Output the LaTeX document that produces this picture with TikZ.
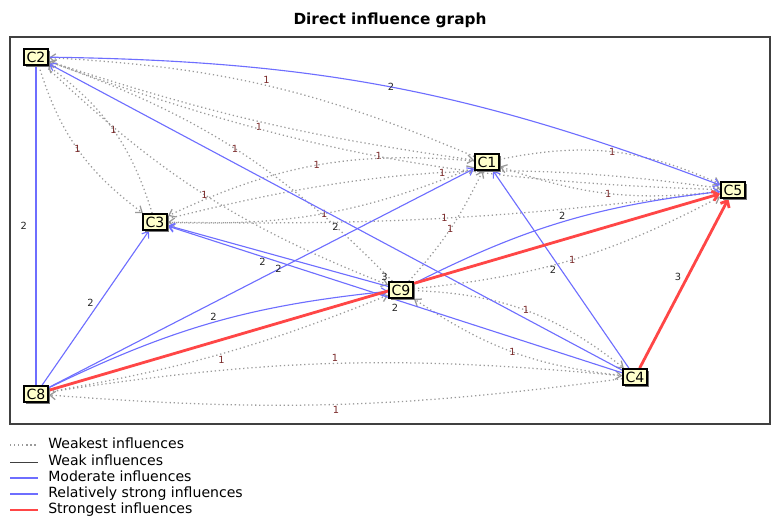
\documentclass[tikz,border=0pt]{standalone}
\usepackage{fontspec}
\setmainfont{DejaVu Sans}
\usetikzlibrary{arrows.meta, shadows}
\definecolor{cellfill}{HTML}{FFFFCC}
\definecolor{modblue}{HTML}{6E6EFF}
\definecolor{strongred}{HTML}{FF4646}
\definecolor{dotgray}{HTML}{9A9A9A}
\definecolor{onered}{HTML}{7A2A2A}
\pgfdeclarelayer{edges}
\pgfsetlayers{edges,main}

\begin{document}
\begin{tikzpicture}[x=0.025cm, y=0.025cm,
                    factor/.style={rectangle, draw=black, line width=1pt, fill=cellfill,
                                   inner xsep=2pt, inner ysep=2pt, minimum height=11.4pt,
                                   font=\fontsize{10}{10}\selectfont,
                                   drop shadow={shadow xshift=1.5pt, shadow yshift=-1.5pt, fill=black!55, opacity=1}},
                    weakest/.style={draw=dotgray, line width=0.9pt, dash pattern=on 0.9pt off 2pt,
                                    -{Straight Barb[length=4pt,width=6pt]}},
                    weak/.style={draw=black!75, line width=0.6pt},
                    moderate/.style={draw=modblue, line width=0.8pt, -{Straight Barb[length=4pt,width=6pt]}},
                    strong/.style={draw=modblue, line width=1.6pt},
                    strongest/.style={draw=strongred, line width=2pt, -{Straight Barb[length=4pt,width=7pt]}},
                    lbl/.style={font=\fontsize{7}{7}\selectfont, inner sep=1pt},
                    one/.style={lbl, text=onered},
                    two/.style={lbl, text=black!85},
                    three/.style={lbl, text=black!85},
                    legend/.style={font=\fontsize{10}{10}\selectfont, anchor=west, inner sep=0pt,
                                   text height=7pt, text depth=2pt}]
            \useasboundingbox (0,0) rectangle (771,518);

            % Title and frame
            \node[font=\bfseries\fontsize{10.9}{11}\selectfont] (title) at (390,498) {Direct influence graph};
            \draw[black!75, line width=1pt] (10,94) rectangle (770,481);

            % Variables
            \node[factor] (c2) at (36,461) {C2};
            \node[factor] (c1) at (487,356) {C1};
            \node[factor] (c5) at (733,328) {C5};
            \node[factor] (c3) at (155,296) {C3};
            \node[factor] (c9) at (401,228) {C9};
            \node[factor] (c8) at (36,124) {C8};
            \node[factor] (c4) at (635,141) {C4};

            \begin{pgfonlayer}{edges}
            % Weakest influences
            \draw[weakest] (c3) to[bend right=18] node[midway,one]{1} (c2);
            \draw[weakest] (c2) to[bend right=18] node[midway,one]{1} (c3);
            \draw[weakest] (c1) to[bend right=10] node[midway,above,one]{1} (c2);
            \draw[weakest] (c2) to[bend right=5] node[midway,below,one]{1} (c1);
            \draw[weakest] (c9) to[bend right=13] node[midway,one]{1} (c2);
            \draw[weakest] (c2) to[bend right=11] node[midway,one]{1} (c9);
            \draw[weakest] (c5) to[bend left=9] node[midway,one]{1} (c2);
            \draw[weakest] (c1) to[bend right=15] node[midway,one]{1} (c3);
            \draw[weakest] (c3) to[bend right=12] node[midway,one]{1} (c1);
            \draw[weakest] (c3) to[bend left=11] node[midway,one]{1} (c5);
            \draw[weakest] (c5) to[bend left=4] node[midway,one]{1} (c3);
            \draw[weakest] (c9) to[bend right=8] node[midway,one]{1} (c1);
            \draw[weakest] (c1) to[bend left=18] node[midway,one]{1} (c5);
            \draw[weakest] (c5) to[bend left=13] node[midway,one]{1} (c1);
            \draw[weakest] (c9) to[bend right=11] node[midway,one]{1} (c5);
            \draw[weakest] (c9) to[bend left=18] node[midway,one]{1} (c4);
            \draw[weakest] (c4) to[bend left=14] node[midway,one]{1} (c9);
            \draw[weakest] (c8) to[bend left=7] node[midway,above,one]{1} (c4);
            \draw[weakest] (c4) to[bend left=6] node[midway,below,one]{1} (c8);
            \draw[weakest] (c8) to[bend right=6] node[midway,below,one]{1} (c9);

            % Moderate influences
            \draw[moderate] (c2) to[bend left=10] node[midway,two]{2} (c5);
            \draw[moderate] (c4) -- node[midway,below=3pt,two]{2} (c2);
            \draw[moderate,-] (c8) -- node[midway,left=5pt,two]{2} (c2);
            \draw[moderate] (c8) -- node[midway,above left,two]{2} (c3);
            \draw[moderate] (c8) -- node[pos=0.54,two]{2} (c1);
            \draw[moderate] (c9) -- node[pos=0.57,below=3pt,two]{2} (c3);
            \draw[moderate] (c4) -- node[midway,below=2pt,two]{2} (c3);
            \draw[moderate] (c8) to[bend left=10] node[midway,above,two]{2} (c9);
            \draw[moderate] (c9) to[bend left=10] node[midway,above,two]{2} (c5);
            \draw[moderate] (c4) -- node[midway,left=2pt,two]{2} (c1);

            % Strongest influences
            \draw[strongest] (c8) -- node[midway,above=6pt,three]{3} (c5);
            \draw[strongest] (c4) -- node[midway,above left,three]{3} (c5);
            \end{pgfonlayer}

            % Legend
            \draw[weakest,-] (10,73) -- (38,73);
            \node[legend] (lweakest) at (48,73) {Weakest influences};
            \draw[weak] (10,56) -- (38,56);
            \node[legend] (lweak) at (48,56) {Weak influences};
            \draw[moderate,-] (10,40) -- (38,40);
            \node[legend] (lmoderate) at (48,40) {Moderate influences};
            \draw[strong] (10,24) -- (38,24);
            \node[legend] (lstrong) at (48,24) {Relatively strong influences};
            \draw[strongest,-] (10,8) -- (38,8);
            \node[legend] (lstrongest) at (48,8) {Strongest influences};
        \end{tikzpicture}
\end{document}
